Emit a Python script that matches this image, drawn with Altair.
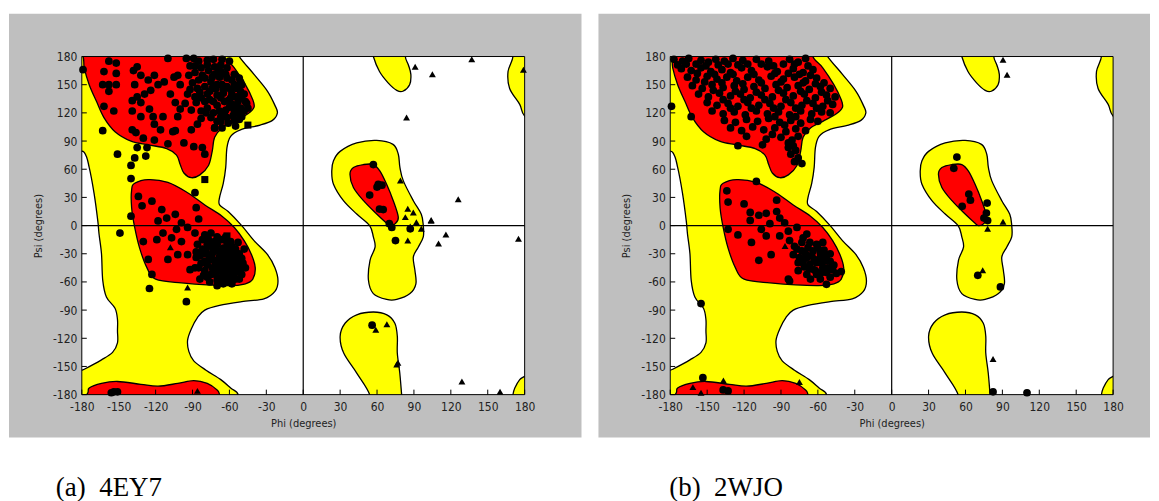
import altair as alt
import pandas as pd

# ---------------- Ramachandran region outlines (phi, psi in degrees) ----------------
yellow_general = [(-200, 200), (-58, 195), (-52, 180), (-40, 161), (-29, 143), (-23, 128), (-21, 120),
                  (-25, 112), (-35, 107), (-51, 102), (-59, 95), (-62, 83), (-63, 62), (-65, 45),
                  (-68, 30), (-68, 22), (-61, 15), (-50, 0), (-40, -16), (-29, -31), (-23, -45),
                  (-20.5, -59), (-23, -70), (-32, -78), (-50, -81), (-68, -85), (-80, -90), (-86, -98),
                  (-91, -110), (-94, -122), (-93, -134), (-89, -144), (-79, -154), (-67, -164),
                  (-59, -173), (-53, -180), (-58, -195), (-200, -200), (-192, -162), (-178, -153),
                  (-164, -143), (-155, -135), (-151, -125), (-151, -112), (-151, -100), (-153, -88),
                  (-160, -76), (-163, -58), (-164, -30), (-166, -9), (-167, 5), (-170, 34), (-174, 62),
                  (-178, 78), (-190, 92)]
yellow_top_mid = [(55, 195), (57, 180), (62, 164), (69, 152), (76, 144), (81, 143), (86.5, 150),
                  (87.5, 161), (85.5, 171), (83, 180), (84, 195)]
yellow_bottom_mid = [(52, -195), (54, -180), (43.5, -157), (33, -136), (30, -118), (34, -104),
                     (43.5, -95), (57, -92), (68, -95), (74.5, -104), (76.5, -118), (76.5, -136),
                     (78.5, -157), (80, -180), (81, -195)]
yellow_left_alpha = [(24.6, 69), (30, 79), (43.5, 88), (59.7, 90.7), (73, 86.5), (77.3, 76),
                     (78.6, 62), (81.4, 47.6), (89.5, 26.5), (96, 12), (97.6, 0), (97.6, -12),
                     (93.5, -23), (89.5, -33.5), (90.8, -47.6), (91.6, -62), (86.8, -72.4), (76, -78.7),
                     (67.8, -78.7), (57, -72.4), (53, -58), (54.3, -37), (58.4, -23), (57, -12),
                     (54, 0), (43.5, 12.3), (32.7, 26.5), (24.6, 44), (23.2, 58)]
yellow_right_top = [(168, 195), (170.5, 180), (166.5, 164), (167.8, 146), (176, 129), (180, 116.5),
                    (195, 100), (195, 195)]
yellow_right_bottom = [(195, -150), (180, -160.6), (176, -164), (172, -173), (170.5, -180),
                       (169, -195), (195, -195)]

red_beta = [(-185, 195), (-62, 195), (-64, 180), (-56, 168), (-47, 150), (-41, 134), (-40, 126),
            (-45, 119), (-56, 111), (-66, 104), (-72, 94), (-74, 79), (-77, 64), (-84, 54), (-91, 51),
            (-97, 56), (-100, 65), (-103, 75), (-111, 82), (-126, 86), (-140, 90), (-153, 100),
            (-162, 115), (-168, 132), (-174, 150), (-178, 168), (-179, 180)]
red_alpha = [(-137, 45), (-126, 49), (-110, 46), (-94, 35), (-80, 22), (-66, 10), (-56, -2),
             (-48, -16), (-42, -31), (-39, -45), (-41, -57), (-47, -62), (-61, -64), (-99, -61),
             (-120, -57), (-127, -45), (-133, -24), (-137, -2), (-139.5, 19), (-139.5, 38)]
red_beta_bottom = [(-190, -195), (-176, -180), (-174, -173), (-164, -168), (-151, -166),
                   (-132, -169), (-118, -171), (-102, -168), (-89, -165), (-78, -168), (-70, -175),
                   (-68, -180), (-65, -195)]
red_left_alpha = [(38, 54.7), (40.8, 61.8), (49, 65), (57, 65), (62.4, 58), (67.8, 44), (73.2, 26.5),
                  (77.3, 8.8), (74.6, 1.8), (70.5, 0), (67.8, 2.5), (59.7, 12.3), (49, 26.5),
                  (40.8, 40.6)]

yellow_regions = {"general": yellow_general, "top_mid": yellow_top_mid,
                  "bottom_mid": yellow_bottom_mid, "left_alpha": yellow_left_alpha,
                  "right_top": yellow_right_top, "right_bottom": yellow_right_bottom}
red_regions = {"beta": red_beta, "alpha": red_alpha, "beta_bottom": red_beta_bottom,
               "left_alpha": red_left_alpha}

# ---------------- Residues: (a) 4EY7 ----------------
a_circles = [
    (-179, 166), (-158, 175), (-152, 173), (-162, 164), (-152, 162), (-163, 150), (-158, 150),
    (-152, 150), (-158, 143), (-162, 127), (-154, 122), (-163, 101), (-151, 76), (-140, 64),
    (-140, 50), (-137, 72), (-135, 83), (-128, 74), (-127, 83), (-138, 165), (-135, 169),
    (-132, 160), (-137, 150), (-126, 155), (-121, 160), (-124, 144), (-118, 150), (-113, 153),
    (-129, 140), (-135, 137), (-139, 133), (-132, 131), (-125, 124), (-139, 122), (-132, 116),
    (-122, 116), (-114, 116), (-121, 108), (-116, 102), (-139, 102), (-136, 99), (-130, 93),
    (-121, 91), (-110, 87), (-104, 101), (-106, 100), (-102, 116), (-100, 124), (-104, 131),
    (-108, 140), (-100, 150), (-110, 178), (-102, 160), (-105, 158), (-94, 140), (-96, 130),
    (-91, 123), (-97, 88), (-91, 102), (-86, 108), (-83, 114), (-89, 84), (-82, 83), (-80, 76),
    (-72, 104),
    (-83, 168), (-78, 171), (-72, 161), (-80, 157), (-75, 153), (-67, 164), (-62, 157), (-56, 150),
    (-51, 143), (-47, 132), (-51, 125), (-56, 122), (-62, 115), (-67, 111), (-72, 104), (-78, 125),
    (-83, 136), (-86, 146), (-70, 139), (-64, 132), (-59, 136), (-53, 132), (-48, 122), (-52, 113),
    (-55, 106), (-59, 145), (-66, 150), (-71, 146), (-76, 143), (-80, 132), (-87, 131), (-83, 122),
    (-75, 115), (-68, 122), (-63, 123), (-58, 129), (-51, 153), (-56, 161), (-62, 168), (-67, 171),
    (-72, 169), (-52, 157), (-50, 150), (-45, 125), (-85, 155), (-80, 148), (-74, 158), (-70, 150),
    (-65, 141), (-62, 148), (-58, 140), (-54, 137), (-64, 118), (-70, 128), (-76, 134), (-88, 163),
    (-92, 170), (-95, 178), (-90, 152), (-60, 126), (-57, 117), (-66, 104), (-70, 111), (-52, 119),
    (-48, 140), (-60, 175), (-66, 177), (-73, 177), (-85, 175),
    (-88, 170), (-82, 160), (-77, 165), (-68, 158), (-63, 161), (-58, 155), (-54, 146), (-50, 136),
    (-46, 130), (-55, 127), (-61, 133), (-67, 136), (-73, 132), (-78, 140), (-84, 142), (-88, 137),
    (-92, 145), (-79, 120), (-73, 120), (-67, 116), (-61, 109), (-56, 112), (-50, 116), (-65, 145),
    (-74, 146), (-69, 166), (-78, 176), (-89, 178), (-93, 160),
    (-88, 35), (-134, 31), (-123, 26), (-131, 21), (-115, 17), (-104, 12), (-87, 19), (-140, 10),
    (-118, 5), (-111, 8), (-85, 7), (-99, 3), (-149, -8), (-114, -8), (-103, -4), (-94, -2),
    (-107, -13), (-119, -15), (-130, -17), (-99, -17), (-88, -8), (-102, -31), (-94, -31),
    (-87, -34), (-110, -36), (-126, -36), (-123, -52), (-92, -47), (-84, -57), (-125, -67),
    (-95, -81),
    (-80, -10), (-75, -8), (-70, -12), (-66, -15), (-62, -18), (-58, -22), (-55, -25), (-52, -30),
    (-50, -35), (-49, -40), (-52, -45), (-55, -50), (-58, -55), (-62, -58), (-66, -60), (-70, -58),
    (-75, -52), (-80, -48), (-83, -40), (-84, -32), (-82, -25), (-78, -20), (-73, -25), (-68, -28),
    (-64, -33), (-60, -38), (-57, -43), (-62, -45), (-67, -42), (-72, -38), (-76, -33), (-70, -20),
    (-65, -24), (-60, -28), (-56, -34), (-54, -40), (-58, -30), (-64, -50), (-68, -48), (-72, -46),
    (-78, -42), (-74, -30), (-69, -36), (-63, -40), (-59, -48), (-66, -55), (-71, -52), (-80, -30),
    (-86, -20), (-77, -15), (-60, -60), (-55, -57), (-50, -52), (-53, -18), (-48, -25), (-88, -45),
    (-76, -60), (-70, -64),
    (-82, -15), (-79, -26), (-77, -37), (-74, -45), (-71, -41), (-68, -33), (-66, -38), (-64, -29),
    (-62, -24), (-60, -33), (-58, -40), (-56, -46), (-54, -35), (-53, -42), (-51, -47), (-57, -52),
    (-61, -55), (-65, -47), (-69, -44), (-73, -50), (-78, -55), (-81, -53), (-75, -22), (-72, -17),
    (-68, -15), (-63, -12), (-59, -17), (-56, -29), (-85, -45), (-87, -28), (-65, -62), (-58, -62),
    (-52, -57), (-47, -45), (-62, -35), (-70, -26), (-74, -36), (-80, -38),
    (-154, -177), (-151, -177), (-156, -178),
    (57, 65), (61, 44), (64, 43), (60, 41), (54, 32.5), (62, 17.6), (65, 17), (70, 2), (72, -2),
    (87, -3.5), (75, -16), (56, -106)]
a_triangles = [(91, 169), (105, 161), (137, 177), (179, 166), (84, 115), (126, 28), (104, 6), (79, 48),
               (85, 18), (89.5, 14), (83, 9), (92, 3.5), (87, -1), (96, -3.5), (104, 5), (85, -16),
               (110, -19), (116, -9.5), (175, -14), (59, -111), (68, -105), (77, -146), (76, -148),
               (129, -166), (160, -177), (-94, -66), (-108, -23), (-86, -176)]
a_squares = [(-45, 107), (-80, 49), (-62, -11)]

# ---------------- Residues: (b) 2WJO ----------------
b_circles = [
    (-177, 177), (-170, 175), (-165, 178), (-155, 176), (-149, 174), (-143, 177), (-136, 175),
    (-129, 178), (-121, 176), (-110, 177), (-100, 175), (-83, 177), (-76, 174), (-70, 178),
    (-171, 167), (-163, 165), (-155, 168), (-147, 164), (-138, 166), (-131, 163), (-122, 168),
    (-114, 165), (-101, 169), (-93, 164), (-80, 167), (-72, 163), (-64, 166),
    (-166, 158), (-159, 155), (-150, 159), (-142, 156), (-134, 158), (-126, 154), (-117, 158),
    (-108, 155), (-98, 159), (-88, 156), (-79, 158), (-70, 154), (-61, 157),
    (-162, 149), (-154, 146), (-146, 150), (-137, 147), (-128, 149), (-120, 145), (-112, 148),
    (-103, 146), (-94, 150), (-85, 147), (-76, 149), (-67, 145), (-58, 148), (-50, 146),
    (-157, 140), (-149, 137), (-140, 141), (-131, 138), (-123, 140), (-115, 136), (-106, 139),
    (-97, 137), (-88, 141), (-80, 138), (-71, 140), (-62, 136), (-53, 139), (-46, 137),
    (-150, 131), (-142, 128), (-133, 130), (-125, 127), (-117, 131), (-108, 128), (-99, 130),
    (-90, 127), (-82, 131), (-73, 128), (-64, 130), (-56, 127), (-48, 129),
    (-146, 122), (-137, 119), (-128, 121), (-119, 118), (-110, 122), (-101, 119), (-92, 121),
    (-83, 118), (-74, 122), (-65, 119), (-57, 121), (-50, 120),
    (-163, 116), (-136, 112), (-127, 110), (-118, 113), (-109, 111), (-100, 114), (-91, 110),
    (-82, 112), (-74, 109), (-66, 113), (-60, 111),
    (-131, 104), (-122, 101), (-113, 105), (-104, 102), (-95, 104), (-86, 100), (-78, 103), (-70, 101),
    (-118, 95), (-102, 92), (-90, 94), (-81, 91), (-76, 95), (-125, 85), (-105, 86), (-84, 83),
    (-78, 80), (-82, 76), (-76, 72), (-79, 68), (-73, 66), (-179, 127),
    (-174, 171), (-167, 172), (-159, 172), (-151, 170), (-141, 171), (-133, 172), (-125, 171),
    (-117, 172), (-106, 172), (-96, 170), (-88, 172), (-79, 172), (-68, 170),
    (-158, 162), (-144, 161), (-129, 161), (-112, 161), (-95, 162), (-84, 162), (-75, 161), (-66, 160),
    (-152, 153), (-138, 152), (-121, 151), (-106, 152), (-90, 153), (-72, 152), (-62, 151), (-55, 152),
    (-145, 144), (-127, 143), (-110, 142), (-92, 144), (-74, 143), (-57, 142),
    (-137, 134), (-120, 134), (-103, 134), (-86, 134), (-69, 133), (-52, 133),
    (-131, 125), (-114, 125), (-96, 125), (-78, 125), (-61, 125),
    (-95, 116), (-78, 116), (-87, 107), (-97, 97), (-84, 88), (-80, 85),
    (-110, 47), (-134, 37), (-133, 25), (-120, 23), (-93.5, 27), (-115, 14), (-108, 11), (-102, 13),
    (-93.5, 15), (-115, 5.5), (-99, 2), (-91, 8), (-87, 3), (-133, -4), (-125, -10), (-106, -4),
    (-102, -11), (-91, -11), (-84, -6), (-77, -2), (-114, -18), (-108, -37), (-98, -31), (-83, -16),
    (-72, -13), (-69, -9), (-77, -25), (-73, -27), (-66.5, -18), (-61, -20), (-56, -18), (-64, -27),
    (-58, -29), (-53, -32), (-50, -38), (-69, -34), (-66.5, -41), (-61, -39.5), (-56, -45),
    (-76, -48), (-69, -52), (-61, -52), (-53, -50), (-41, -49), (-50, -55), (-84, -57), (-83, -59),
    (-53, -62.5), (-73, -18), (-80, -31), (-72, -38), (-65, -32), (-58, -34), (-68, -23.5),
    (-76, -39.5), (-57, -39.5), (-64, -46.5),
    (-60, -24), (-55, -26), (-50, -30), (-47, -42), (-52, -45), (-57, -50), (-62, -48), (-67, -46),
    (-71, -44), (-75, -34), (-79, -22), (-70, -30), (-63, -36), (-55, -38), (-48, -47), (-58, -57),
    (-66, -57), (-45, -51),
    (-155, -83), (-153.5, -162), (-137, -175), (-133, -176),
    (53, 73), (50.5, 61), (62.7, 33.5), (64, 27), (57.3, 20.5), (77.6, 24), (77, 13.4), (75, 8),
    (78, 5.3), (70, -53), (88.4, -65.3), (82.4, -177), (110, -178)]
b_triangles = [(90.5, 176.5), (93.8, 160.6), (90.5, 4.2), (78, -3.5), (74, -47.6), (82.4, -142),
               (-161.6, -172), (-155, -178), (-136.8, -165), (-75, -166.5), (-86.7, -21.8)]

tick_values = [-180, -150, -120, -90, -60, -30, 0, 30, 60, 90, 120, 150, 180]
zero_line = [0]
captions = ["(a)\u00a0\u00a04EY7", "(b)\u00a0\u00a02WJO"]

W, H = 444, 339
LABEL_FONT = "'DejaVu Sans Condensed', 'DejaVu Sans', sans-serif"


def poly_df(regions):
    rows = []
    for name, pts in regions.items():
        for i, (a, b) in enumerate(pts):
            rows.append({"region": name, "i": i, "phi": a, "psi": b})
    return pd.DataFrame(rows)


def pts_df(pts):
    return pd.DataFrame(pts, columns=["phi", "psi"])


scale = alt.Scale(domain=[-180, 180], nice=False, zero=False)
common_axis = dict(values=tick_values, ticks=False, domain=False, grid=False,
                   labelFont=LABEL_FONT, labelFontSize=12, labelColor="#222222",
                   titleFont=LABEL_FONT, titleFontSize=11, titleColor="#222222",
                   titleFontWeight="normal", zindex=1, labelFlush=False, labelOverlap=False,
                   labelExpr="replace(datum.label, '\u2212', '-')")
X = lambda: alt.X("phi:Q", scale=scale,
                  axis=alt.Axis(title="Phi (degrees)", labelPadding=7, titlePadding=5, **common_axis))
Y = lambda: alt.Y("psi:Q", scale=scale,
                  axis=alt.Axis(title="Psi (degrees)", labelPadding=5, titlePadding=9, **common_axis))

one = pd.DataFrame({"k": [0]})


def panel(circles, triangles, squares, caption, gx0, gx1, cap_x):
    bg = alt.Chart(one).mark_rect(color="#bfbfbf").encode(
        x=alt.value(gx0), x2=alt.value(gx1), y=alt.value(-43), y2=alt.value(382))
    white = alt.Chart(one).mark_rect(color="white").encode(
        x=alt.value(0), x2=alt.value(W), y=alt.value(0), y2=alt.value(H))
    yel = alt.Chart(poly_df(yellow_regions)).mark_line(
        interpolate="cardinal-closed", filled=True, fill="#ffff00", stroke="black",
        strokeWidth=1.3, clip=True).encode(x=X(), y=Y(), order="i:Q", detail="region:N")
    red = alt.Chart(poly_df(red_regions)).mark_line(
        interpolate="cardinal-closed", filled=True, fill="#ff0000", stroke="black",
        strokeWidth=1.3, clip=True).encode(x=X(), y=Y(), order="i:Q", detail="region:N")
    zl = pd.DataFrame({"phi": zero_line, "psi": zero_line})
    hline = alt.Chart(zl).mark_rule(color="black", strokeWidth=1.2).encode(y=Y())
    vline = alt.Chart(zl).mark_rule(color="black", strokeWidth=1.2).encode(x=X())
    tk = pd.DataFrame({"phi": tick_values, "psi": tick_values})
    xt = alt.Chart(tk).mark_rule(color="black", strokeWidth=1).encode(
        x=X(), y=alt.value(H), y2=alt.value(H - 5))
    yt = alt.Chart(tk).mark_rule(color="black", strokeWidth=1).encode(
        y=Y(), x=alt.value(0), x2=alt.value(5))
    layers = [bg, white, yel, red, hline, vline, xt, yt]
    layers.append(alt.Chart(pts_df(circles)).mark_point(
        shape="circle", filled=True, color="black", size=60, opacity=1).encode(x=X(), y=Y()))
    layers.append(alt.Chart(pts_df(triangles)).mark_point(
        shape="triangle-up", filled=True, color="black", size=48, opacity=1).encode(x=X(), y=Y()))
    if squares:
        layers.append(alt.Chart(pts_df(squares)).mark_point(
            shape="square", filled=True, color="black", size=50, opacity=1).encode(x=X(), y=Y()))
    frame = alt.Chart(one).mark_rect(fillOpacity=0, stroke="black", strokeWidth=1).encode(
        x=alt.value(0), x2=alt.value(W), y=alt.value(0), y2=alt.value(H))
    cap = alt.Chart(one).mark_text(align="left", baseline="alphabetic", font="Liberation Serif",
                                   fontSize=27, color="black").encode(
        x=alt.value(cap_x), y=alt.value(441), text=alt.value(caption))
    layers += [frame, cap]
    return alt.layer(*layers).properties(width=W, height=H)


pa = panel(a_circles, a_triangles, a_squares, captions[0], -73, 501, -26)
pb = panel(b_circles, b_triangles, [], captions[1], -72, 481, -1)

chart = alt.hconcat(pa, pb, spacing=15).properties(
    padding={"left": 0, "top": 4, "right": 0, "bottom": 0}
).configure_view(stroke="transparent").configure(background="white")

chart.save("out.html", embed_options={"renderer": "svg", "actions": False})
